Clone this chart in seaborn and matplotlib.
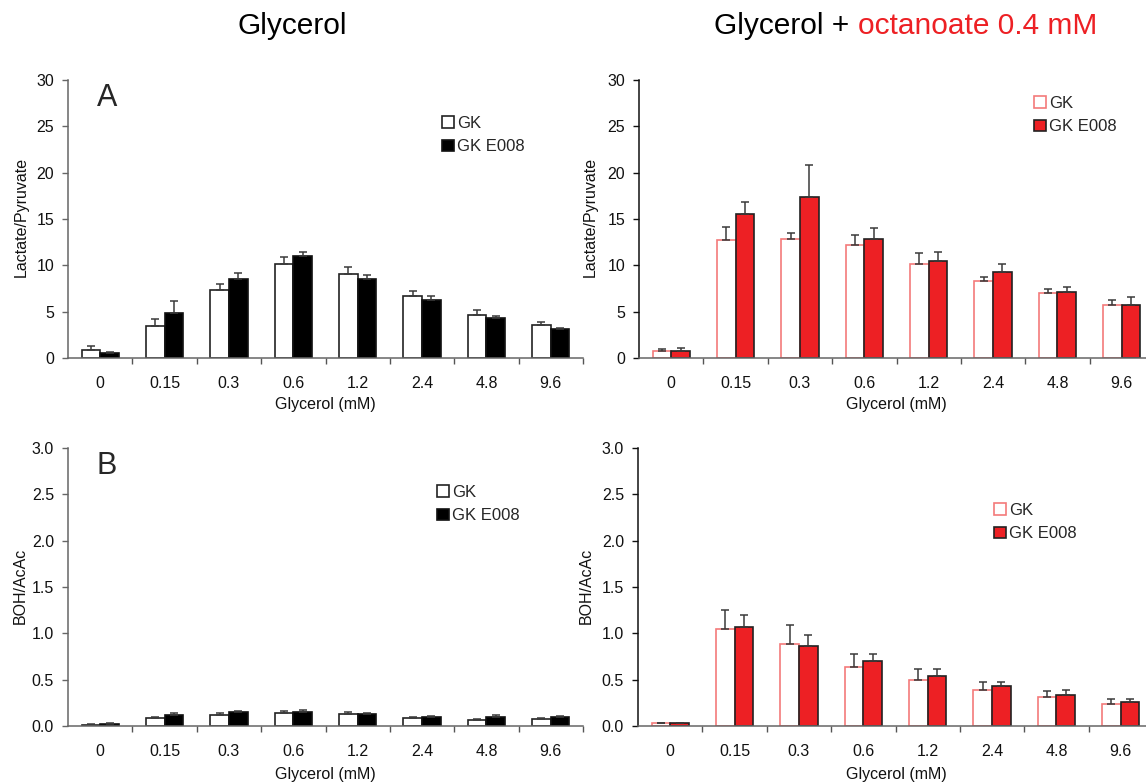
import numpy as np
import pandas as pd
import matplotlib
matplotlib.use("Agg")
import matplotlib.pyplot as plt
import seaborn as sns
from matplotlib.patches import Patch

# ---------------- data ----------------
glycerol = ["0", "0.15", "0.3", "0.6", "1.2", "2.4", "4.8", "9.6"]
strains = ["GK", "GK E008"]

lp_gly_gk = [0.85, 3.42, 7.38, 10.12, 9.04, 6.70, 4.60, 3.53]
lp_gly_gk_err = [0.40, 0.80, 0.60, 0.80, 0.80, 0.55, 0.60, 0.35]
lp_gly_e008 = [0.55, 4.90, 8.57, 11.05, 8.57, 6.30, 4.36, 3.13]
lp_gly_e008_err = [0.10, 1.25, 0.60, 0.40, 0.40, 0.40, 0.20, 0.15]

lp_oct_gk = [0.76, 12.69, 12.83, 12.18, 10.16, 8.28, 7.05, 5.71]
lp_oct_gk_err = [0.25, 1.45, 0.70, 1.08, 1.15, 0.50, 0.43, 0.58]
lp_oct_e008 = [0.76, 15.50, 17.38, 12.80, 10.48, 9.25, 7.12, 5.75]
lp_oct_e008_err = [0.30, 1.30, 3.47, 1.20, 0.94, 0.87, 0.58, 0.80]

boh_gly_gk = [0.014, 0.082, 0.115, 0.136, 0.132, 0.082, 0.064, 0.079]
boh_gly_gk_err = [0.007, 0.018, 0.022, 0.022, 0.018, 0.020, 0.007, 0.007]
boh_gly_e008 = [0.025, 0.115, 0.147, 0.147, 0.125, 0.097, 0.093, 0.093]
boh_gly_e008_err = [0.008, 0.030, 0.020, 0.030, 0.014, 0.010, 0.025, 0.010]

boh_oct_gk = [0.029, 1.05, 0.88, 0.64, 0.50, 0.39, 0.316, 0.24]
boh_oct_gk_err = [0.007, 0.20, 0.21, 0.14, 0.11, 0.08, 0.057, 0.047]
boh_oct_e008 = [0.029, 1.07, 0.86, 0.70, 0.54, 0.43, 0.337, 0.255]
boh_oct_e008_err = [0.007, 0.13, 0.12, 0.08, 0.07, 0.05, 0.047, 0.035]

# ---------------- style ----------------
sns.set_theme(style="white")
plt.rcParams["font.family"] = ["Liberation Sans", "DejaVu Sans"]

W, H = 1146, 784
fig = plt.figure(figsize=(W / 100, H / 100), dpi=100)
RED = "#ED2024"


def px_rect(left, right, top, bottom):
    return [left / W, 1 - bottom / H, (right - left) / W, (bottom - top) / H]


def panel(rect, gk, gk_err, e8, e8_err, ymax, ystep, dec, fills, edges,
          spine_left, legend_px):
    ax = fig.add_axes(rect)
    df = pd.DataFrame({
        "Glycerol": glycerol * 2,
        "Strain": [strains[0]] * len(glycerol) + [strains[1]] * len(glycerol),
        "value": list(gk) + list(e8),
    })
    sns.barplot(data=df, x="Glycerol", y="value", hue="Strain",
                order=glycerol, hue_order=strains,
                palette={strains[0]: fills[0], strains[1]: fills[1]},
                width=0.58, gap=0, errorbar=None, saturation=1,
                legend=False, ax=ax, linewidth=1.2)
    for cont, ec, errs in zip(ax.containers, edges, [gk_err, e8_err]):
        xs, ys = [], []
        for p in cont:
            p.set_edgecolor(ec)
            p.set_linewidth(1.2)
            xs.append(p.get_x() + p.get_width() / 2)
            ys.append(p.get_height())
        ax.errorbar(xs, ys, yerr=[np.zeros(len(errs)), errs], fmt="none",
                    ecolor="#3a3a3a", elinewidth=1.1, capsize=3,
                    capthick=1.1, zorder=1)
    ax.set_xlim(-0.5, len(glycerol) - 0.5)
    ax.set_ylim(0, ymax)
    ticks = np.arange(0, ymax + ystep / 2, ystep)
    ax.set_yticks(ticks)
    ax.set_yticklabels([f"{t:.{dec}f}" for t in ticks])
    ax.set_xticks(range(len(glycerol)))
    ax.set_xticklabels(glycerol)
    ax.set_xticks(np.arange(0.5, len(glycerol), 1.0), minor=True)
    ax.tick_params(axis="x", which="major", length=0, pad=13,
                   labelsize=11.5, colors="#111")
    ax.tick_params(axis="x", which="minor", length=4, width=1,
                   direction="out", color="#555", bottom=True)
    ax.tick_params(axis="y", length=4, width=1, direction="out", pad=6,
                   labelsize=11.5, colors="#111", left=True)
    ax.tick_params(axis="y", color=spine_left)
    ax.set_xlabel("")
    ax.set_ylabel("")
    for s in ["top", "right"]:
        ax.spines[s].set_visible(False)
    ax.spines["left"].set_color(spine_left)
    ax.spines["bottom"].set_color("#666")
    ax.spines["left"].set_linewidth(1.1)
    ax.spines["bottom"].set_linewidth(1.1)
    handles = [Patch(facecolor=fills[0], edgecolor=edges[0], linewidth=1.2),
               Patch(facecolor=fills[1], edgecolor=edges[1], linewidth=1.2)]
    fig.legend(handles, strains, loc="upper left",
               bbox_to_anchor=(legend_px[0] / W, 1 - legend_px[1] / H),
               frameon=False, fontsize=12, handlelength=0.7,
               handleheight=0.7, handletextpad=0.2, labelspacing=0.5,
               borderpad=0, borderaxespad=0)
    return ax


ax1 = panel(px_rect(68, 583, 80, 358), lp_gly_gk, lp_gly_gk_err,
            lp_gly_e008, lp_gly_e008_err, 30, 5, 0,
            ("white", "black"), ("#222", "#111"), "#666", (442, 116))
ax2 = panel(px_rect(639, 1154, 80, 358), lp_oct_gk, lp_oct_gk_err,
            lp_oct_e008, lp_oct_e008_err, 30, 5, 0,
            ("white", RED), ("#F47A7A", "#222"), "#111", (1034, 96))
ax3 = panel(px_rect(68, 583, 448, 726), boh_gly_gk, boh_gly_gk_err,
            boh_gly_e008, boh_gly_e008_err, 3.0, 0.5, 1,
            ("white", "black"), ("#222", "#111"), "#666", (437, 485))
ax4 = panel(px_rect(638, 1153, 448, 726), boh_oct_gk, boh_oct_gk_err,
            boh_oct_e008, boh_oct_e008_err, 3.0, 0.5, 1,
            ("white", RED), ("#F47A7A", "#222"), "#111", (994, 503))

# axis labels
lab = dict(fontsize=11.5, color="#111")
fig.text(21 / W, 1 - 217 / H, "Lactate/Pyruvate", rotation=90,
         ha="center", va="center", **lab)
fig.text(590 / W, 1 - 217 / H, "Lactate/Pyruvate", rotation=90,
         ha="center", va="center", **lab)
fig.text(20 / W, 1 - 586 / H, "BOH/AcAc", rotation=90,
         ha="center", va="center", **lab)
fig.text(586 / W, 1 - 586 / H, "BOH/AcAc", rotation=90,
         ha="center", va="center", **lab)
for cx, cy in [(325, 405), (896, 405), (325, 775), (896, 775)]:
    fig.text(cx / W, 1 - cy / H, "Glycerol (mM)", ha="center",
             va="center", **lab)

# panel letters
fig.text(107 / W, 1 - 98 / H, "A", fontsize=22, ha="center", va="center")
fig.text(107 / W, 1 - 466 / H, "B", fontsize=22, ha="center", va="center")

# titles
fig.text(292 / W, 1 - 26 / H, "Glycerol", fontsize=21.5, ha="center",
         va="center", color="black")
t1 = fig.text(714 / W, 1 - 26 / H, "Glycerol +", fontsize=21.5, ha="left",
              va="center", color="black")
fig.canvas.draw()
bb = t1.get_window_extent()
fig.text((bb.x1 + 9) / W, 1 - 26 / H, "octanoate 0.4 mM", fontsize=21.5,
         color=RED, ha="left", va="center")

fig.savefig("out.png", dpi=100)
